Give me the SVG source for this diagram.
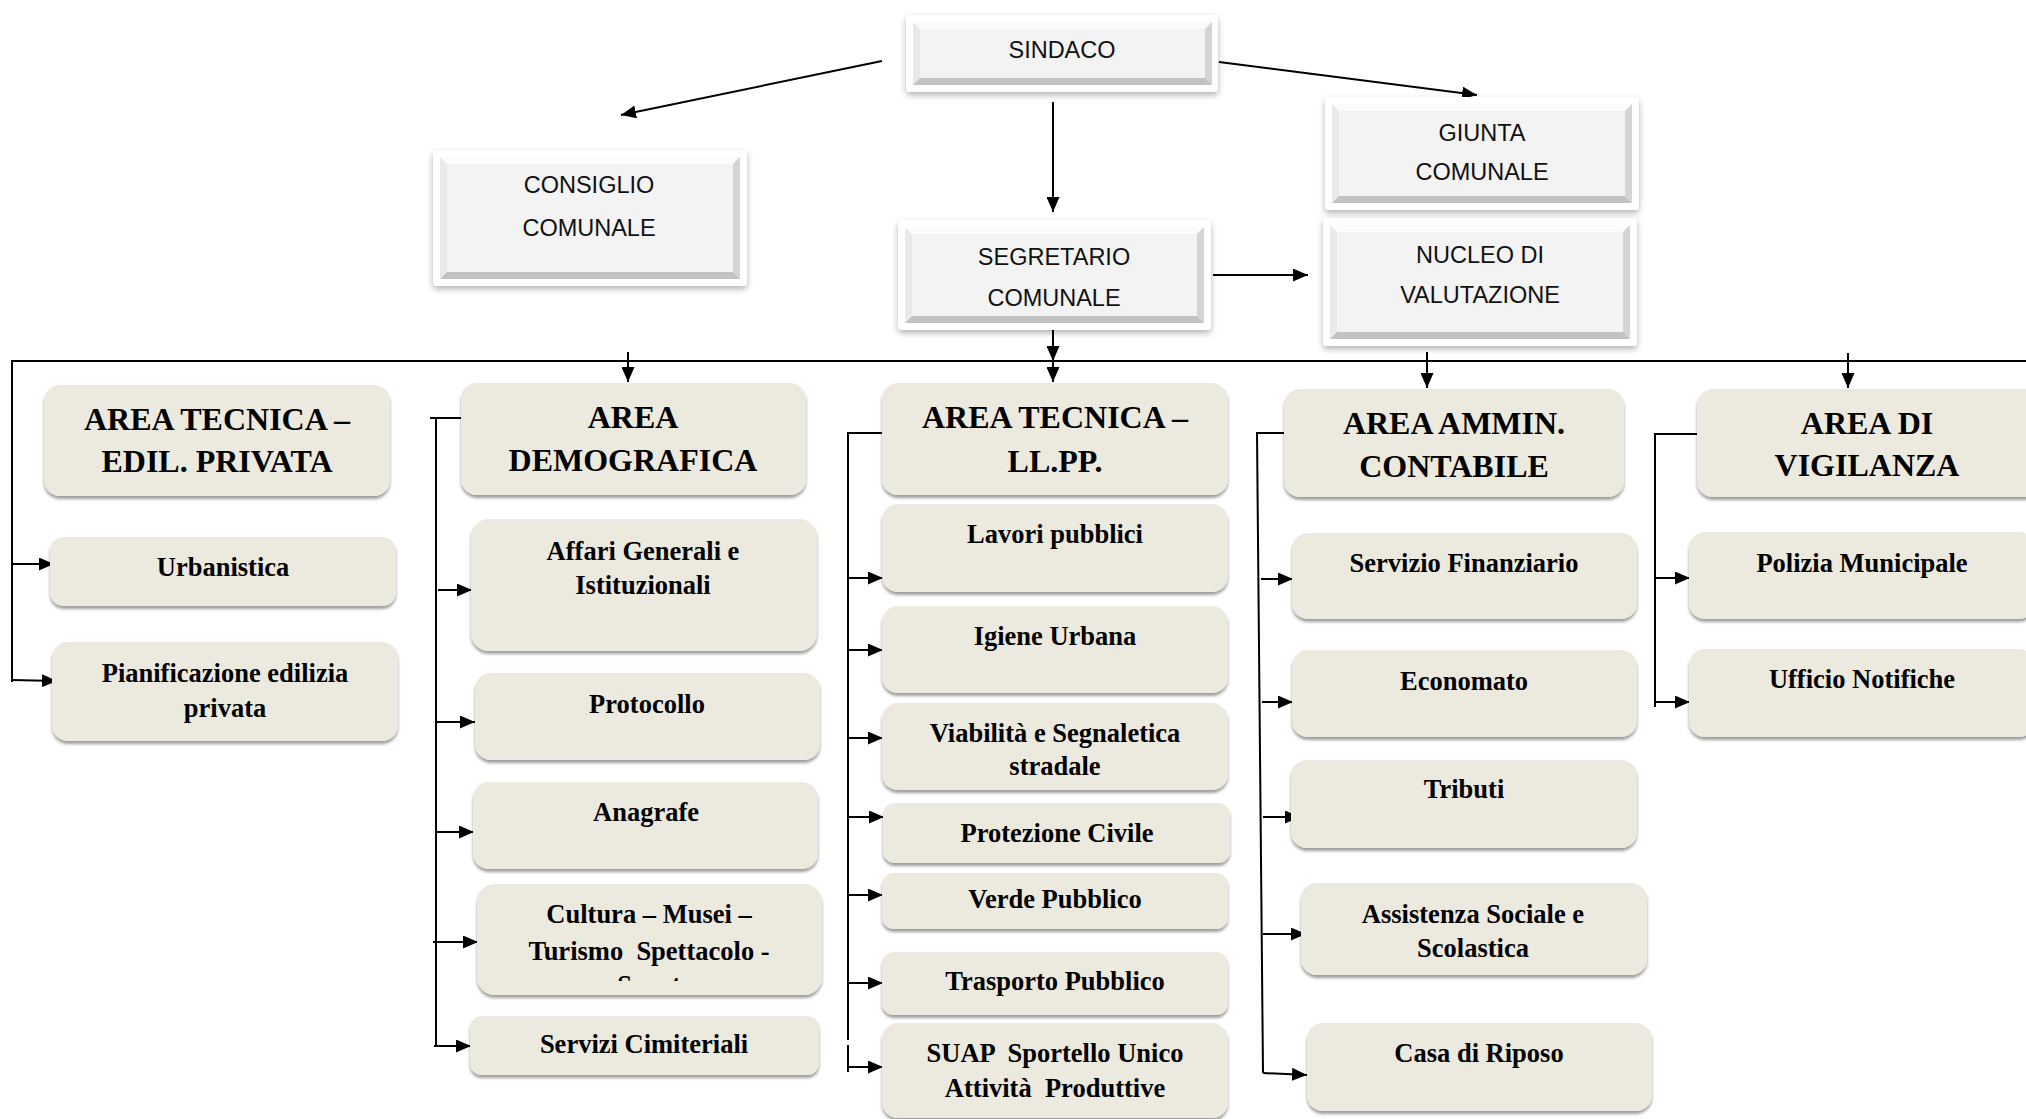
<svg xmlns="http://www.w3.org/2000/svg" width="2026" height="1119" viewBox="0 0 2026 1119">
<defs>
<style>
.frame{fill:#ffffff;filter:url(#sh1)}
.bt{fill:#fbfbfb}.bl{fill:#e9e9e9}.br{fill:#d4d4d4}.bb{fill:#c2c2c2}.face{fill:#f3f3f3}
.ttxt{font-family:"Liberation Sans",Arial,sans-serif;font-size:23.5px;fill:#111;text-anchor:middle}
.area{fill:#ece9df;filter:url(#sh2)}
.h{font-family:"Liberation Serif","Times New Roman",serif;font-weight:bold;font-size:32px;fill:#000;text-anchor:middle}
.s{font-family:"Liberation Serif","Times New Roman",serif;font-weight:bold;font-size:26.5px;fill:#000;text-anchor:middle}
.c{fill:none;stroke:#000;stroke-width:2}
.a{fill:none;stroke:#000;stroke-width:2;marker-end:url(#ah)}
</style>
<filter id="sh1" x="-10%" y="-20%" width="120%" height="150%">
<feDropShadow dx="0" dy="3" stdDeviation="3" flood-color="#000" flood-opacity="0.3"/>
</filter>
<filter id="sh2" x="-10%" y="-20%" width="120%" height="150%">
<feDropShadow dx="0" dy="3" stdDeviation="1.6" flood-color="#000" flood-opacity="0.38"/>
</filter>
<marker id="ah" markerUnits="userSpaceOnUse" markerWidth="15" markerHeight="13" refX="15" refY="6.5" orient="auto">
<path d="M0,0 L15,6.5 L0,13 z" fill="#000"/>
</marker>
<clipPath id="cultClip"><rect x="470" y="880" width="360" height="101"/></clipPath>
</defs>
<rect width="2026" height="1119" fill="#ffffff"/>

<g id="connectors">
<line class="a" x1="882" y1="61" x2="621" y2="115"/>
<line class="a" x1="1219" y1="62" x2="1477" y2="95"/>
<line class="a" x1="1053" y1="102" x2="1053" y2="212"/>
<line class="a" x1="1213" y1="275" x2="1308" y2="275"/>
<line class="a" x1="1053" y1="330" x2="1053" y2="361"/>
<path class="c" d="M2026,361 H12 V682"/>
<line class="a" x1="12" y1="564" x2="54" y2="564"/>
<line class="a" x1="12" y1="680" x2="57" y2="681"/>
<line class="a" x1="628" y1="352" x2="628" y2="382"/>
<line class="a" x1="1053" y1="361" x2="1053" y2="382"/>
<line class="a" x1="1427" y1="352" x2="1427" y2="388"/>
<line class="a" x1="1848" y1="353" x2="1848" y2="388"/>
<path class="c" d="M461,418 H430 M436,418 V1046"/>
<line class="a" x1="438" y1="590" x2="472" y2="590"/>
<line class="a" x1="436" y1="722" x2="475" y2="722"/>
<line class="a" x1="436" y1="832" x2="474" y2="832"/>
<line class="a" x1="433" y1="942" x2="478" y2="942"/>
<line class="a" x1="434" y1="1046" x2="471" y2="1046"/>
<path class="c" d="M882,433 H848 V1040 M848,1045 V1072"/>
<line class="a" x1="848" y1="578" x2="883" y2="578"/>
<line class="a" x1="848" y1="650" x2="883" y2="650"/>
<line class="a" x1="848" y1="738" x2="883" y2="738"/>
<line class="a" x1="848" y1="817" x2="884" y2="817"/>
<line class="a" x1="848" y1="895" x2="883" y2="895"/>
<line class="a" x1="848" y1="983" x2="883" y2="983"/>
<line class="a" x1="848" y1="1067" x2="883" y2="1067"/>
<path class="c" d="M1284,433 H1257 L1263,1073"/>
<line class="a" x1="1261" y1="579" x2="1293" y2="579"/>
<line class="a" x1="1262" y1="702" x2="1293" y2="702"/>
<line class="a" x1="1263" y1="817" x2="1300" y2="817"/>
<line class="a" x1="1263" y1="934" x2="1306" y2="934"/>
<line class="a" x1="1263" y1="1073" x2="1307" y2="1075"/>
<path class="c" d="M1697,434 H1655 V707"/>
<line class="a" x1="1655" y1="578" x2="1690" y2="578"/>
<line class="a" x1="1655" y1="702" x2="1690" y2="702"/>
</g>

<g id="sindaco">
<rect class="frame" x="906" y="15" width="312" height="77" rx="4"/>
<polygon class="bt" points="913,22 1212,22 1205,29 920,29"/>
<polygon class="bl" points="913,22 920,29 920,78 913,85"/>
<polygon class="br" points="1212,22 1212,85 1205,78 1205,29"/>
<polygon class="bb" points="913,85 1212,85 1205,78 920,78"/>
<rect class="face" x="920" y="29" width="285" height="49"/>
<text class="ttxt" x="1062" y="58">SINDACO</text>
</g>

<g id="consiglio">
<rect class="frame" x="433" y="150" width="314" height="136" rx="4"/>
<polygon class="bt" points="440,157 740,157 733,164 447,164"/>
<polygon class="bl" points="440,157 447,164 447,272 440,279"/>
<polygon class="br" points="740,157 740,279 733,272 733,164"/>
<polygon class="bb" points="440,279 740,279 733,272 447,272"/>
<rect class="face" x="447" y="164" width="286" height="108"/>
<text class="ttxt" x="589" y="193">CONSIGLIO</text>
<text class="ttxt" x="589" y="236">COMUNALE</text>
</g>

<g id="giunta">
<rect class="frame" x="1325" y="97" width="314" height="113" rx="4"/>
<polygon class="bt" points="1332,104 1632,104 1625,111 1339,111"/>
<polygon class="bl" points="1332,104 1339,111 1339,196 1332,203"/>
<polygon class="br" points="1632,104 1632,203 1625,196 1625,111"/>
<polygon class="bb" points="1332,203 1632,203 1625,196 1339,196"/>
<rect class="face" x="1339" y="111" width="286" height="85"/>
<text class="ttxt" x="1482" y="141">GIUNTA</text>
<text class="ttxt" x="1482" y="180">COMUNALE</text>
</g>

<g id="segretario">
<rect class="frame" x="898" y="220" width="313" height="110" rx="4"/>
<polygon class="bt" points="905,227 1204,227 1197,234 912,234"/>
<polygon class="bl" points="905,227 912,234 912,316 905,323"/>
<polygon class="br" points="1204,227 1204,323 1197,316 1197,234"/>
<polygon class="bb" points="905,323 1204,323 1197,316 912,316"/>
<rect class="face" x="912" y="234" width="285" height="82"/>
<text class="ttxt" x="1054" y="265">SEGRETARIO</text>
<text class="ttxt" x="1054" y="306">COMUNALE</text>
</g>

<g id="nucleo">
<rect class="frame" x="1323" y="218" width="314" height="128" rx="4"/>
<polygon class="bt" points="1330,225 1630,225 1623,232 1337,232"/>
<polygon class="bl" points="1330,225 1337,232 1337,332 1330,339"/>
<polygon class="br" points="1630,225 1630,339 1623,332 1623,232"/>
<polygon class="bb" points="1330,339 1630,339 1623,332 1337,332"/>
<rect class="face" x="1337" y="232" width="286" height="100"/>
<text class="ttxt" x="1480" y="263">NUCLEO DI</text>
<text class="ttxt" x="1480" y="303">VALUTAZIONE</text>
</g>

<g id="area-tecnica-edil">
<rect class="area" x="44" y="385" width="346" height="111" rx="16"/>
<text class="h" x="217" y="430">AREA TECNICA –</text>
<text class="h" x="217" y="472">EDIL. PRIVATA</text>
</g>
<g id="urbanistica">
<rect class="area" x="50" y="537" width="346" height="69" rx="14"/>
<text class="s" x="223" y="576">Urbanistica</text>
</g>
<g id="pianificazione">
<rect class="area" x="52" y="642" width="346" height="99" rx="16"/>
<text class="s" x="225" y="682">Pianificazione edilizia</text>
<text class="s" x="225" y="717">privata</text>
</g>

<g id="area-demografica">
<rect class="area" x="461" y="383" width="345" height="112" rx="16"/>
<text class="h" x="633" y="428">AREA</text>
<text class="h" x="633" y="471">DEMOGRAFICA</text>
</g>
<g id="affari-generali">
<rect class="area" x="471" y="519" width="346" height="132" rx="18"/>
<text class="s" x="643" y="560">Affari Generali e</text>
<text class="s" x="643" y="594">Istituzionali</text>
</g>
<g id="protocollo">
<rect class="area" x="475" y="673" width="345" height="87" rx="16"/>
<text class="s" x="647" y="713">Protocollo</text>
</g>
<g id="anagrafe">
<rect class="area" x="473" y="782" width="345" height="87" rx="16"/>
<text class="s" x="646" y="821">Anagrafe</text>
</g>
<g id="cultura">
<rect class="area" x="477" y="884" width="345" height="111" rx="18"/>
<text class="s" x="649" y="923">Cultura – Musei –</text>
<text class="s" x="649" y="960" xml:space="preserve">Turismo  Spettacolo -</text>
<text class="s" x="649" y="994" clip-path="url(#cultClip)">Sport</text>
</g>
<g id="servizi-cimiteriali">
<rect class="area" x="470" y="1016" width="349" height="59" rx="12"/>
<text class="s" x="644" y="1053">Servizi Cimiteriali</text>
</g>

<g id="area-tecnica-llpp">
<rect class="area" x="882" y="383" width="346" height="112" rx="16"/>
<text class="h" x="1055" y="428">AREA TECNICA –</text>
<text class="h" x="1055" y="472">LL.PP.</text>
</g>
<g id="lavori-pubblici">
<rect class="area" x="882" y="504" width="346" height="88" rx="16"/>
<text class="s" x="1055" y="543">Lavori pubblici</text>
</g>
<g id="igiene-urbana">
<rect class="area" x="882" y="606" width="346" height="87" rx="16"/>
<text class="s" x="1055" y="645">Igiene Urbana</text>
</g>
<g id="viabilita">
<rect class="area" x="882" y="703" width="346" height="87" rx="16"/>
<text class="s" x="1055" y="742">Viabilità e Segnaletica</text>
<text class="s" x="1055" y="775">stradale</text>
</g>
<g id="protezione-civile">
<rect class="area" x="883" y="803" width="347" height="60" rx="12"/>
<text class="s" x="1057" y="842">Protezione Civile</text>
</g>
<g id="verde-pubblico">
<rect class="area" x="882" y="873" width="346" height="56" rx="12"/>
<text class="s" x="1055" y="908">Verde Pubblico</text>
</g>
<g id="trasporto-pubblico">
<rect class="area" x="882" y="952" width="346" height="63" rx="12"/>
<text class="s" x="1055" y="990">Trasporto Pubblico</text>
</g>
<g id="suap">
<rect class="area" x="882" y="1023" width="346" height="95" rx="16"/>
<text class="s" x="1055" y="1062" xml:space="preserve">SUAP  Sportello Unico</text>
<text class="s" x="1055" y="1097" xml:space="preserve">Attività  Produttive</text>
</g>

<g id="area-ammin-contabile">
<rect class="area" x="1284" y="389" width="340" height="108" rx="16"/>
<text class="h" x="1454" y="434">AREA AMMIN.</text>
<text class="h" x="1454" y="477">CONTABILE</text>
</g>
<g id="servizio-finanziario">
<rect class="area" x="1292" y="533" width="345" height="86" rx="16"/>
<text class="s" x="1464" y="572">Servizio Finanziario</text>
</g>
<g id="economato">
<rect class="area" x="1292" y="650" width="345" height="87" rx="16"/>
<text class="s" x="1464" y="690">Economato</text>
</g>
<g id="tributi">
<rect class="area" x="1291" y="760" width="346" height="88" rx="16"/>
<text class="s" x="1464" y="798">Tributi</text>
</g>
<g id="assistenza-sociale">
<rect class="area" x="1301" y="883" width="346" height="92" rx="16"/>
<text class="s" x="1473" y="923">Assistenza Sociale e</text>
<text class="s" x="1473" y="957">Scolastica</text>
</g>
<g id="casa-di-riposo">
<rect class="area" x="1307" y="1023" width="345" height="88" rx="16"/>
<text class="s" x="1479" y="1062">Casa di Riposo</text>
</g>

<g id="area-vigilanza">
<rect class="area" x="1697" y="389" width="346" height="108" rx="16"/>
<text class="h" x="1867" y="434">AREA DI</text>
<text class="h" x="1867" y="476">VIGILANZA</text>
</g>
<g id="polizia-municipale">
<rect class="area" x="1689" y="532" width="346" height="87" rx="16"/>
<text class="s" x="1862" y="572">Polizia Municipale</text>
</g>
<g id="ufficio-notifiche">
<rect class="area" x="1689" y="649" width="346" height="88" rx="16"/>
<text class="s" x="1862" y="688">Ufficio Notifiche</text>
</g>
</svg>
